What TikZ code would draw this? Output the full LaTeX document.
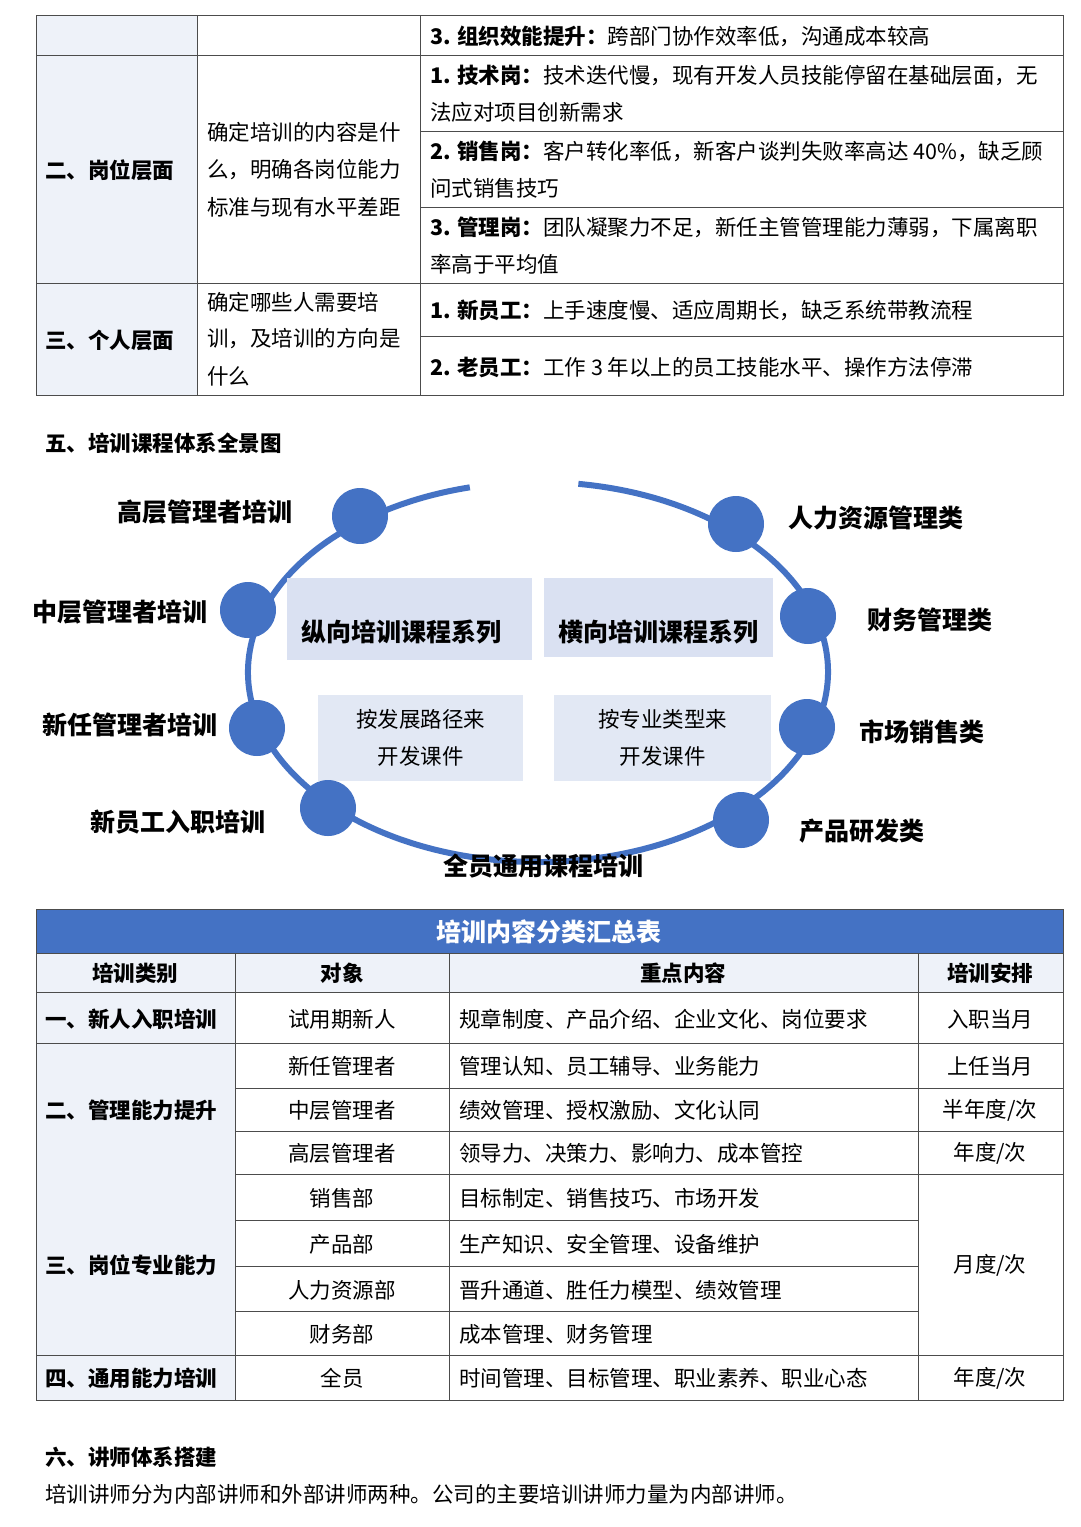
\documentclass[tikz,border=0pt]{standalone}
\usepackage{fontspec}
\setmainfont{Noto Sans CJK SC}
\begin{document}
\begin{tikzpicture}[x=1pt,y=-1pt,
  cell/.style={draw=black!70,line width=0.9pt},
  fillc/.style={cell,fill=lightc},
  tx/.style={anchor=west,inner sep=0pt,font=\fontsize{21.5}{26}\selectfont},
  tc/.style={anchor=center,inner sep=0pt,font=\fontsize{21.5}{26}\selectfont},
  tb/.style={anchor=center,inner sep=0pt,font=\fontsize{21.5}{26}\selectfont\bfseries},
  txb/.style={anchor=west,inner sep=0pt,font=\fontsize{21.5}{26}\selectfont\bfseries},
  lab/.style={anchor=center,inner sep=0pt,font=\fontsize{25}{30}\selectfont\bfseries},
  dot/.style={circle,fill=ringc,minimum size=56pt,inner sep=0pt},
  sbox/.style={fill=boxc,inner sep=0pt},
  sbox2/.style={fill=boxd,inner sep=0pt}]
\definecolor{lightc}{HTML}{EEF2F9}
\definecolor{ringc}{HTML}{4472C4}
\definecolor{boxc}{HTML}{DAE1F2}
\definecolor{boxd}{HTML}{E2E8F4}
\definecolor{headc}{HTML}{4472C4}
\useasboundingbox[fill=white] (0,0) rectangle (1080,1527);
% ---------- top table
\draw[fillc] (36,15) rectangle (197,395);
\draw[cell] (197,15) rectangle (420,395);
\draw[cell] (420,15) rectangle (1063,395);
\draw[cell] (36,55) -- (1063,55);
\draw[cell] (36,283) -- (1063,283);
\foreach \y in {131,207,336} \draw[cell] (420,\y) -- (1063,\y);
\node[tx] (r1) at (430,36) {\textbf{3. 组织效能提升：}跨部门协作效率低，沟通成本较高};
\node[tx] (r2) at (430,75) {\textbf{1. 技术岗：}技术迭代慢，现有开发人员技能停留在基础层面，无};
\node[tx] (r2b) at (430,112) {法应对项目创新需求};
\node[tx] (r3) at (430,151) {\textbf{2. 销售岗：}客户转化率低，新客户谈判失败率高达 40\%，缺乏顾};
\node[tx] (r3b) at (430,188) {问式销售技巧};
\node[tx] (r4) at (430,227) {\textbf{3. 管理岗：}团队凝聚力不足，新任主管管理能力薄弱，下属离职};
\node[tx] (r4b) at (430,264) {率高于平均值};
\node[tx] (r5) at (430,310) {\textbf{1. 新员工：}上手速度慢、适应周期长，缺乏系统带教流程};
\node[tx] (r6) at (430,367) {\textbf{2. 老员工：}工作 3 年以上的员工技能水平、操作方法停滞};
\node[tx] (m1) at (207,132) {确定培训的内容是什};
\node[tx] (m2) at (207,170) {么，明确各岗位能力};
\node[tx] (m3) at (207,207) {标准与现有水平差距};
\node[tx] (m4) at (207,302) {确定哪些人需要培};
\node[tx] (m5) at (207,339) {训，及培训的方向是};
\node[tx] (m6) at (207,376) {什么};
\node[txb] (l1) at (45,170) {二、岗位层面};
\node[txb] (l2) at (45,340) {三、个人层面};
% ---------- section 5
\node[txb] (s5) at (45,443) {五、培训课程体系全景图};
\draw[ringc,line width=6pt] (538,672) ++(278:290 and 190) arc[start angle=278,end angle=616.4,x radius=290,y radius=190];
\node[sbox,minimum width=245pt,minimum height=82pt] (bx1) at (409.5,619) {};
\node[lab] at (401,632) {纵向培训课程系列};
\node[sbox,minimum width=229pt,minimum height=79pt] (bx2) at (658.5,617.5) {};
\node[lab] at (658,632) {横向培训课程系列};
\node[sbox2,minimum width=205pt,minimum height=86pt,align=center,font=\fontsize{21.5}{37}\selectfont] (bx3) at (420.5,738) {按发展路径来\\开发课件};
\node[sbox2,minimum width=217pt,minimum height=86pt,align=center,font=\fontsize{21.5}{37}\selectfont] (bx4) at (662.5,738) {按专业类型来\\开发课件};
\node[dot] (d1) at (360,516) {};
\node[dot] (d2) at (248,610) {};
\node[dot] (d3) at (257,728) {};
\node[dot] (d4) at (328,808) {};
\node[dot] (d5) at (736,524) {};
\node[dot] (d6) at (808,616) {};
\node[dot] (d7) at (807,727) {};
\node[dot] (d8) at (741,820) {};
\node[lab] at (205,512) {高层管理者培训};
\node[lab] at (120,612) {中层管理者培训};
\node[lab] at (130,725) {新任管理者培训};
\node[lab] at (178,822) {新员工入职培训};
\node[lab] at (543,866) {全员通用课程培训};
\node[lab] at (876,518) {人力资源管理类};
\node[lab] at (930,620) {财务管理类};
\node[lab] at (922,732) {市场销售类};
\node[lab] at (862,831) {产品研发类};
% ---------- bottom table
\draw[cell,fill=headc] (36,909) rectangle (1063,953);
\node[anchor=center,inner sep=0pt,text=white,font=\fontsize{25}{30}\selectfont\bfseries] (ttl) at (549,932) {培训内容分类汇总表};
\draw[fillc] (36,953) rectangle (1063,992);
\draw[fillc] (36,992) rectangle (235,1400);
\draw[cell] (235,992) rectangle (1063,1400);
\foreach \x in {235,449,918} \draw[cell] (\x,953) -- (\x,1400);
\foreach \y in {1043,1355} \draw[cell] (36,\y) -- (1063,\y);
\foreach \y in {1088,1131,1174} \draw[cell] (235,\y) -- (1063,\y);
\foreach \y in {1220,1266,1311} \draw[cell] (235,\y) -- (918,\y);
\node[tb] at (135,973) {培训类别};
\node[tb] at (342,973) {对象};
\node[tb] at (683,973) {重点内容};
\node[tb] at (990,973) {培训安排};
\node[txb] at (45,1019) {一、新人入职培训};
\node[txb] at (45,1110) {二、管理能力提升};
\node[txb] at (45,1265) {三、岗位专业能力};
\node[txb] at (45,1378) {四、通用能力培训};
\foreach \y/\a/\b in {1019/试用期新人/规章制度、产品介绍、企业文化、岗位要求,
  1066/新任管理者/管理认知、员工辅导、业务能力,
  1110/中层管理者/绩效管理、授权激励、文化认同,
  1153/高层管理者/领导力、决策力、影响力、成本管控,
  1198/销售部/目标制定、销售技巧、市场开发,
  1244/产品部/生产知识、安全管理、设备维护,
  1290/人力资源部/晋升通道、胜任力模型、绩效管理,
  1334/财务部/成本管理、财务管理,
  1378/全员/时间管理、目标管理、职业素养、职业心态}
  {\node[tc] at (342,\y) {\a}; \node[tx] at (459,\y) {\b};}
\node[tc] at (990,1019) {入职当月};
\node[tc] at (990,1066) {上任当月};
\node[tc] at (990,1110) {半年度/次};
\node[tc] at (990,1153) {年度/次};
\node[tc] at (990,1265) {月度/次};
\node[tc] at (990,1378) {年度/次};
% ---------- section 6
\node[txb] (s6) at (45,1457) {六、讲师体系搭建};
\node[tx] (s6t) at (45,1494) {培训讲师分为内部讲师和外部讲师两种。公司的主要培训讲师力量为内部讲师。};
\end{tikzpicture}
\end{document}
